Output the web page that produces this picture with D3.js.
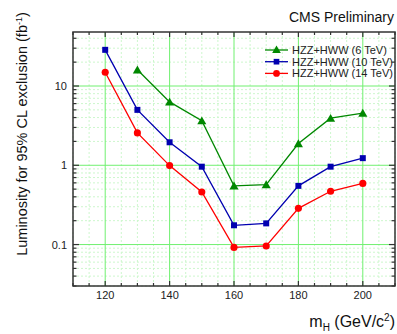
<!DOCTYPE html>
<html><head><meta charset="utf-8">
<script src="https://cdn.jsdelivr.net/npm/d3@7"></script>
<style>body{margin:0;background:#fff;} text{font-family:"Liberation Sans",Arial,sans-serif;}</style>
</head><body>
<svg id="c" width="397" height="334"></svg>
<script>
const masses = [120,130,140,150,160,170,180,190,200];
const lumi6  = [null,16,6.3,3.65,0.55,0.57,1.88,3.93,4.55];
const lumi10 = [28.6,5.0,1.95,0.96,0.175,0.185,0.55,0.96,1.23];
const lumi14 = [14.9,2.56,0.99,0.46,0.092,0.096,0.286,0.47,0.59];
const seriesNames = ["HZZ+HWW (6 TeV)","HZZ+HWW (10 TeV)","HZZ+HWW (14 TeV)"];
const seriesColors = ["#008800","#0000b0","#ff0000"];
const seriesShapes = [d3.symbolTriangle, d3.symbolSquare, d3.symbolCircle];
const xTickVals = [120,140,160,180,200];
const yTickVals = [0.1,1,10];
const yTickLabels = ["0.1","1","10"];

const svg = d3.select("#c");
const L=73,R=395,T=32,B=286;
const x = d3.scaleLinear().domain([110,210]).range([L,R]);
const y = d3.scaleLog().domain([0.03,48]).range([B,T]);

const xMinor = d3.range(110,211,5);
const yMinor = [];
for (let e=-2;e<=1;e++) for (let m=1;m<=9;m++){const v=m*Math.pow(10,e); if(v>=0.03&&v<=48) yMinor.push(v);}
const isMajY = v=>yTickVals.some(t=>Math.abs(t-v)<1e-9);

const g = svg.append("g");
g.selectAll(".gxm").data(xMinor.filter(v=>v%20!==0)).enter().append("line")
 .attr("x1",d=>x(d)).attr("x2",d=>x(d)).attr("y1",T).attr("y2",B)
 .attr("stroke","#cdf7cd").attr("stroke-width",1).attr("stroke-dasharray","2,2");
g.selectAll(".gym").data(yMinor.filter(v=>!isMajY(v))).enter().append("line")
 .attr("y1",d=>y(d)).attr("y2",d=>y(d)).attr("x1",L).attr("x2",R)
 .attr("stroke","#cdf7cd").attr("stroke-width",1).attr("stroke-dasharray","2,2");
g.selectAll(".gx").data(xTickVals).enter().append("line")
 .attr("x1",d=>x(d)).attr("x2",d=>x(d)).attr("y1",T).attr("y2",B)
 .attr("stroke","#70f070").attr("stroke-width",1);
g.selectAll(".gy").data(yTickVals).enter().append("line")
 .attr("y1",d=>y(d)).attr("y2",d=>y(d)).attr("x1",L).attr("x2",R)
 .attr("stroke","#70f070").attr("stroke-width",1);

svg.append("rect").attr("x",L).attr("y",T).attr("width",R-L).attr("height",B-T)
 .attr("fill","none").attr("stroke","#333").attr("stroke-width",1.5);

const tk = svg.append("g").attr("stroke","#333").attr("stroke-width",1.2);
xMinor.forEach(v=>{
  const len = v%20===0?5:3;
  tk.append("line").attr("x1",x(v)).attr("x2",x(v)).attr("y1",B).attr("y2",B-len);
  tk.append("line").attr("x1",x(v)).attr("x2",x(v)).attr("y1",T).attr("y2",T+len);
});
yMinor.forEach(v=>{
  const len = isMajY(v)?6:3.5;
  tk.append("line").attr("y1",y(v)).attr("y2",y(v)).attr("x1",L).attr("x2",L+len);
  tk.append("line").attr("y1",y(v)).attr("y2",y(v)).attr("x1",R).attr("x2",R-len);
});

svg.selectAll(".xl").data(xTickVals).enter().append("text")
 .attr("x",d=>x(d)).attr("y",299).attr("text-anchor","middle").attr("font-size",11).attr("fill","#222").text(d=>d);
svg.selectAll(".yl").data(yTickVals).enter().append("text")
 .attr("x",67).attr("y",d=>y(d)+4).attr("text-anchor","end").attr("font-size",11).attr("fill","#222")
 .text((d,i)=>yTickLabels[i]);

const allSeries = [lumi6,lumi10,lumi14];
allSeries.forEach((vals,i)=>{
  const pts = masses.map((m,j)=>({m,v:vals[j]})).filter(p=>p.v!=null);
  svg.append("path").datum(pts)
   .attr("d",d3.line().x(p=>x(p.m)).y(p=>y(p.v)))
   .attr("fill","none").attr("stroke",seriesColors[i]).attr("stroke-width",1.3);
  svg.selectAll(".m"+i).data(pts).enter().append("path")
   .attr("transform",p=>`translate(${x(p.m)},${y(p.v)+(i===0?1:0)})`)
   .attr("d",d3.symbol().type(seriesShapes[i]).size(i===2?40:36))
   .attr("fill",seriesColors[i]);
});

seriesNames.forEach((n,i)=>{
  const ly = 50 + i*11.7;
  svg.append("line").attr("x1",265).attr("x2",288).attr("y1",ly).attr("y2",ly)
   .attr("stroke",seriesColors[i]).attr("stroke-width",1.3);
  svg.append("path").attr("transform",`translate(276.5,${ly+(i===0?0.5:0)})`)
   .attr("d",d3.symbol().type(seriesShapes[i]).size(i===2?36:32)).attr("fill",seriesColors[i]);
  svg.append("text").attr("x",292).attr("y",ly+4).attr("font-size",11).attr("fill","#222").text(n);
});

svg.append("text").attr("x",394).attr("y",21.5).attr("text-anchor","end").attr("font-size",14).attr("fill","#111").text("CMS Preliminary");

svg.append("text").attr("transform","translate(27,134) rotate(-90)").attr("text-anchor","middle")
 .attr("font-size",14.5).attr("fill","#111")
 .html('Luminosity for 95% CL exclusion (fb<tspan dy="-5" font-size="9">-1</tspan><tspan dy="5">)</tspan>');

svg.append("text").attr("x",395).attr("y",327).attr("text-anchor","end").attr("font-size",16).attr("fill","#111")
 .html('m<tspan dy="4" font-size="10">H</tspan><tspan dy="-4"> (GeV/c</tspan><tspan dy="-6" font-size="10">2</tspan><tspan dy="6">)</tspan>');
</script>
</body></html>
